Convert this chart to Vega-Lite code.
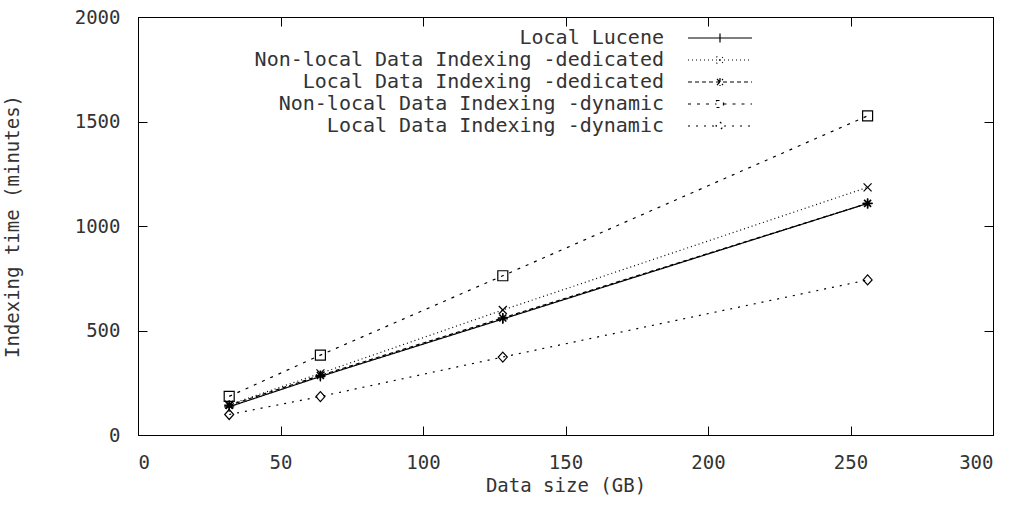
{
  "$schema": "https://vega.github.io/schema/vega-lite/v6.json",
  "width": 855,
  "height": 418,
  "autosize": {"type": "none"},
  "padding": {"left": 138, "top": 17, "right": 31, "bottom": 75},
  "background": "white",
  "config": {
    "font": "DejaVu Sans Mono",
    "view": {"stroke": "black", "strokeWidth": 1},
    "axis": {
      "grid": false,
      "domainColor": "black",
      "domainWidth": 1,
      "tickColor": "black",
      "tickWidth": 1,
      "tickSize": -9,
      "labelFont": "DejaVu Sans Mono",
      "labelFontSize": 19,
      "labelColor": "#333",
      "titleFont": "DejaVu Sans Mono",
      "titleFontSize": 19,
      "titleFontWeight": "normal",
      "titleColor": "#333",
      "format": "d"
    },
    "point": {"filled": false, "color": "black", "size": 100, "strokeWidth": 1.2, "opacity": 1}
  },
  "data": {
    "values": [
      {"series": "Local Lucene", "size": 32, "time": 135},
      {"series": "Local Lucene", "size": 64, "time": 280},
      {"series": "Local Lucene", "size": 128, "time": 555},
      {"series": "Local Lucene", "size": 256, "time": 1108},
      {"series": "Non-local Data Indexing -dedicated", "size": 32, "time": 145},
      {"series": "Non-local Data Indexing -dedicated", "size": 64, "time": 295},
      {"series": "Non-local Data Indexing -dedicated", "size": 128, "time": 598},
      {"series": "Non-local Data Indexing -dedicated", "size": 256, "time": 1185},
      {"series": "Local Data Indexing -dedicated", "size": 32, "time": 142},
      {"series": "Local Data Indexing -dedicated", "size": 64, "time": 285},
      {"series": "Local Data Indexing -dedicated", "size": 128, "time": 560},
      {"series": "Local Data Indexing -dedicated", "size": 256, "time": 1108},
      {"series": "Non-local Data Indexing -dynamic", "size": 32, "time": 185},
      {"series": "Non-local Data Indexing -dynamic", "size": 64, "time": 382},
      {"series": "Non-local Data Indexing -dynamic", "size": 128, "time": 762},
      {"series": "Non-local Data Indexing -dynamic", "size": 256, "time": 1527},
      {"series": "Local Data Indexing -dynamic", "size": 32, "time": 98},
      {"series": "Local Data Indexing -dynamic", "size": 64, "time": 184},
      {"series": "Local Data Indexing -dynamic", "size": 128, "time": 373},
      {"series": "Local Data Indexing -dynamic", "size": 256, "time": 742}
    ]
  },
  "layer": [
    {
      "mark": {"type": "line", "color": "black", "strokeWidth": 1.2},
      "encoding": {
        "x": {
          "field": "size", "type": "quantitative",
          "scale": {"domain": [0, 300], "nice": false},
          "axis": {"orient": "bottom", "values": [0, 50, 100, 150, 200, 250, 300], "title": "Data size (GB)", "labelPadding": 27, "titleBaseline": "middle", "titleY": 50}
        },
        "y": {
          "field": "time", "type": "quantitative",
          "scale": {"domain": [0, 2000], "nice": false},
          "axis": {"orient": "left", "values": [0, 500, 1000, 1500, 2000], "title": "Indexing time (minutes)", "labelPadding": 27, "titleX": -126, "titleY": 209, "titleAngle": -90, "titleBaseline": "middle", "titleAlign": "center"}
        },
        "strokeDash": {
          "field": "series", "type": "nominal",
          "scale": {
            "domain": ["Local Lucene", "Non-local Data Indexing -dedicated", "Local Data Indexing -dedicated", "Non-local Data Indexing -dynamic", "Local Data Indexing -dynamic"],
            "range": [[1, 0], [1, 3], [4, 3], [3, 6], [2, 6]]
          },
          "legend": {
            "orient": "none",
            "legendX": 572,
            "legendY": 11,
            "title": null,
            "padding": 0,
            "symbolSize": 100,
            "symbolStrokeColor": "black",
            "symbolStrokeWidth": 1.2,
            "symbolFillColor": "transparent",
            "labelFont": "DejaVu Sans Mono",
            "labelFontSize": 20,
            "labelColor": "#333",
            "labelAlign": "right",
            "labelOffset": -66,
            "labelLimit": 700,
            "rowPadding": 2,
            "encode": {
              "symbols": {
                "update": {
                  "shape": {"signal": "datum.value === 'Local Lucene' ? 'M-6.4,0H6.4M0,-0.9V0.9' : datum.value === 'Non-local Data Indexing -dedicated' ? 'M-6.4,0H6.4M-0.7,-0.7L0.7,0.7M-0.7,0.7L0.7,-0.7' : datum.value === 'Local Data Indexing -dedicated' ? 'M-6.4,0H6.4M0,-0.8V0.8M-0.6,-0.6L0.6,0.6M-0.6,0.6L0.6,-0.6' : datum.value === 'Non-local Data Indexing -dynamic' ? 'M-6.4,0H-0.7M0.7,0H6.4M-0.7,-0.7H0.7V0.7H-0.7Z' : 'M-6.4,0H-0.8M0.8,0H6.4M0,-0.8L0.8,0L0,0.8L-0.8,0Z'"},
                  "fill": {"value": "transparent"},
                  "stroke": {"value": "black"}
                }
              }
            }
          }
        }
      }
    },
    {
      "transform": [{"filter": {"field": "series", "equal": "Local Lucene"}}],
      "mark": {"type": "point", "shape": "M-1,0H1M0,-1V1"},
      "encoding": {
        "x": {"field": "size", "type": "quantitative", "axis": {"orient": "top", "values": [0, 50, 100, 150, 200, 250, 300], "labels": false, "title": null}},
        "y": {"field": "time", "type": "quantitative", "axis": {"orient": "right", "values": [0, 500, 1000, 1500, 2000], "labels": false, "title": null}}
      }
    },
    {
      "transform": [{"filter": {"field": "series", "equal": "Non-local Data Indexing -dedicated"}}],
      "mark": {"type": "point", "shape": "M-0.8,-0.8L0.8,0.8M-0.8,0.8L0.8,-0.8"},
      "encoding": {
        "x": {"field": "size", "type": "quantitative", "axis": null},
        "y": {"field": "time", "type": "quantitative", "axis": null}
      }
    },
    {
      "transform": [{"filter": {"field": "series", "equal": "Local Data Indexing -dedicated"}}],
      "mark": {"type": "point", "shape": "M-1,0H1M0,-1V1M-0.7,-0.7L0.7,0.7M-0.7,0.7L0.7,-0.7", "strokeWidth": 1.6},
      "encoding": {
        "x": {"field": "size", "type": "quantitative", "axis": null},
        "y": {"field": "time", "type": "quantitative", "axis": null}
      }
    },
    {
      "transform": [{"filter": {"field": "series", "equal": "Non-local Data Indexing -dynamic"}}],
      "mark": {"type": "point", "shape": "M-1,-1H1V1H-1Z"},
      "encoding": {
        "x": {"field": "size", "type": "quantitative", "axis": null},
        "y": {"field": "time", "type": "quantitative", "axis": null}
      }
    },
    {
      "transform": [{"filter": {"field": "series", "equal": "Local Data Indexing -dynamic"}}],
      "mark": {"type": "point", "shape": "M0,-1L0.9,0L0,1L-0.9,0Z"},
      "encoding": {
        "x": {"field": "size", "type": "quantitative", "axis": null},
        "y": {"field": "time", "type": "quantitative", "axis": null}
      }
    }
  ],
  "resolve": {"axis": {"x": "independent", "y": "independent"}}
}
